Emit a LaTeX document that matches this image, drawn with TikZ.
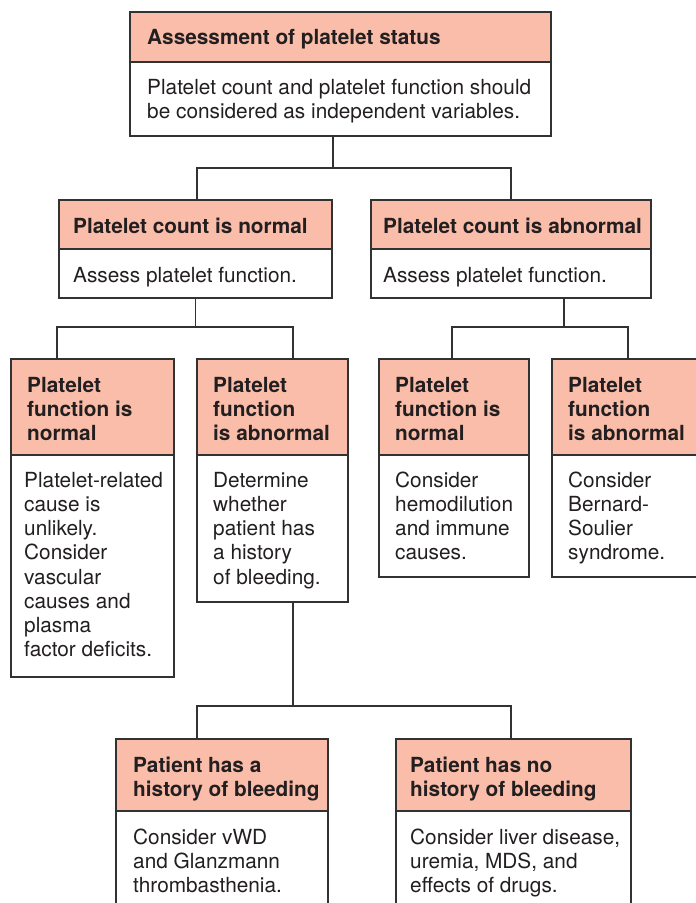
\documentclass[tikz,border=0pt]{standalone}
\usepackage{fontspec}
\setmainfont{TeX Gyre Heros}
\usetikzlibrary{calc}

\definecolor{hdrfill}{RGB}{249,189,169}
\definecolor{edgegray}{RGB}{50,50,50}
\definecolor{ink}{RGB}{35,31,32}

\tikzset{
  boxbase/.style={draw=edgegray, line width=1.2pt, inner sep=0pt, outer sep=0pt, anchor=north west},
  headbox/.style={boxbase, fill=hdrfill},
  bodybox/.style={boxbase, fill=white},
  wire/.style={draw=edgegray, line width=1.2pt},
  % text is placed by its first baseline: the strut is 0.7 of the line skip tall
  txt/.style={anchor=north west, yshift=16.94pt, inner sep=0pt, align=left, text=ink,
              font=\fontsize{20.8}{24.2}\selectfont},
  btxt/.style={txt, font=\fontsize{20.8}{24.2}\selectfont\bfseries},
}

% #1 name, #2 left, #3 top, #4 right, #5 header/body divide, #6 bottom
\newcommand\flowpanel[6]{%
  \node[bodybox, minimum width={#4-#2}, minimum height={#6-#5}] (#1b) at (#2,#5) {};
  \node[headbox, minimum width={#4-#2}, minimum height={#5-#3}] (#1h) at (#2,#3) {};
}

\begin{document}
\begin{tikzpicture}[x=1pt, y=-1pt]
\useasboundingbox[fill=white] (0,0) rectangle (696,903);

% boxes
\flowpanel{p0}{130}{12}{551}{62}{136}
\flowpanel{p1}{59}{200}{332}{249}{298}
\flowpanel{p2}{371}{200}{651}{249}{298}
\flowpanel{p3}{11}{359}{174}{455}{677}
\flowpanel{p4}{197}{359}{348}{455}{602}
\flowpanel{p5}{379}{359}{529}{455}{577}
\flowpanel{p6}{552}{359}{700}{455}{577}
\flowpanel{p7}{116}{739}{328}{811}{910}
\flowpanel{p8}{396}{739}{631}{811}{910}

% connectors
\draw[wire] ($(p0b.south west)+(203,0)$) -- ++(0,32) coordinate (j0);
\draw[wire] ($(p1h.north west)+(138,0)$) |- (j0) -| ($(p2h.north west)+(140,0)$);

\draw[wire] (p1b.south) -- ++(0,29) coordinate (j1);
\draw[wire] ($(p3h.north west)+(46,0)$) |- (j1) -| ($(p4h.north west)+(96,0)$);

\draw[wire] ($(p2b.south west)+(193,0)$) -- ++(0,29) coordinate (j2);
\draw[wire] ($(p5h.north west)+(73,0)$) |- (j2) -| ($(p6h.north west)+(76,0)$);

\draw[wire] ($(p4b.south west)+(96,0)$) -- ++(0,104) coordinate (j3);
\draw[wire] ($(p7h.north west)+(81,0)$) |- (j3) -| ($(p8h.north west)+(115,0)$);

% texts
\node[btxt] (t0h) at (147,44) {\strut Assessment of platelet status};
\node[txt]  (t0b) at (147,94) {\strut Platelet count and platelet function should\\be considered as independent variables.};

\node[btxt] (t1h) at (73,233) {\strut Platelet count is normal};
\node[txt]  (t1b) at (73,282) {\strut Assess platelet function.};
\node[btxt] (t2h) at (383,233) {\strut Platelet count is abnormal};
\node[txt]  (t2b) at (383,282) {\strut Assess platelet function.};

\node[btxt] (t3h) at (27,392) {\strut Platelet\\function is\\normal};
\node[txt]  (t3b) at (24,487) {\strut Platelet-related\\cause is\\unlikely.\\Consider\\vascular\\causes and\\plasma\\factor deficits.};
\node[btxt] (t4h) at (213,392) {\strut Platelet\\function\\is abnormal};
\node[txt]  (t4b) at (213,487) {\strut Determine\\whether\\patient has\\a history\\of bleeding.};
\node[btxt] (t5h) at (395,392) {\strut Platelet\\function is\\normal};
\node[txt]  (t5b) at (395,487) {\strut Consider\\hemodilution\\and immune\\causes.};
\node[btxt] (t6h) at (568,392) {\strut Platelet\\function\\is abnormal};
\node[txt]  (t6b) at (568,487) {\strut Consider\\Bernard-\\Soulier\\syndrome.};

\node[btxt] (t7h) at (133,772) {\strut Patient has a\\history of bleeding};
\node[txt]  (t7b) at (133,844) {\strut Consider vWD\\and Glanzmann\\thrombasthenia.};
\node[btxt] (t8h) at (410,772) {\strut Patient has no\\history of bleeding};
\node[txt]  (t8b) at (410,844) {\strut Consider liver disease,\\uremia, MDS, and\\effects of drugs.};
\end{tikzpicture}
\end{document}
